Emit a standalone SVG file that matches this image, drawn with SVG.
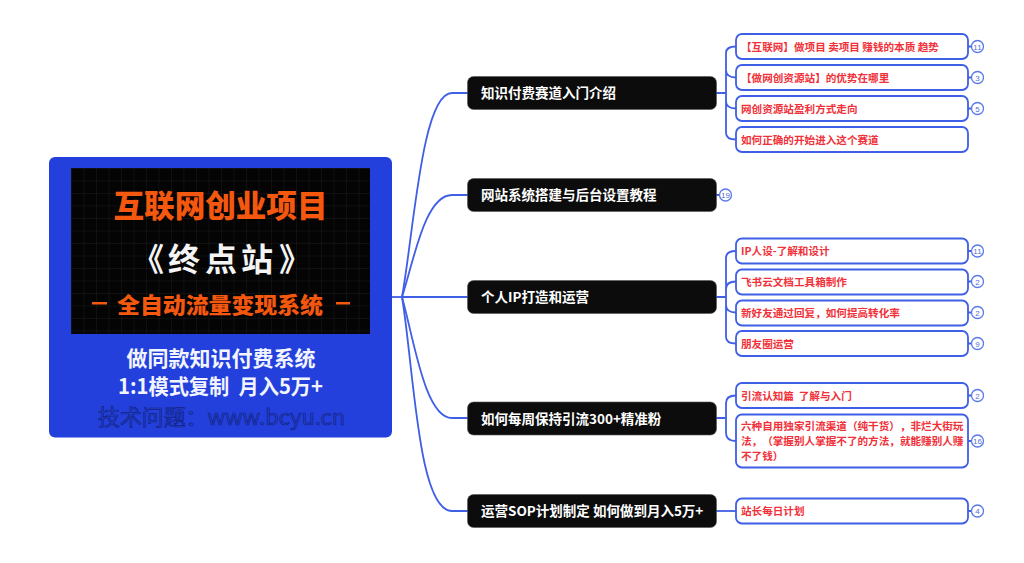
<svg xmlns="http://www.w3.org/2000/svg" width="1024" height="563" viewBox="0 0 1024 563">
<style>
text{font-family:"Noto Sans CJK SC","Liberation Sans",sans-serif;white-space:pre;text-spacing-trim:space-all}
.c{fill:none;stroke:#3f5fe6;stroke-width:1.8}
.m rect{fill:#0c0c0c;stroke:#555;stroke-width:.6}
.m text{fill:#fff;font-size:13.500px;font-weight:700}
.k rect{fill:#fff;stroke:#3f5fe6;stroke-width:1.8}
.k text{fill:#f0313a;font-size:10.600px;font-weight:700}
.b circle{fill:#fff;stroke:#5a78ea;stroke-width:1.3}
.b text{fill:#5570d8;font-size:8px;text-anchor:middle;font-family:"Liberation Sans",sans-serif}
</style>
<defs>
<pattern id="g" width="12.5" height="12.5" patternUnits="userSpaceOnUse" x="71" y="168"><path d="M12.5 0H0V12.5" fill="none" stroke="#2a2a2a" stroke-width=".6"/></pattern>
</defs>
<rect width="1024" height="563" fill="#fff"/>
<g id="connectors">
<path class="c" d="M392 297H402"/>
<path class="c" d="M402 297C414 230 422 93 452 93H468"/>
<path class="c" d="M402 297C414 260 425 195 452 195H468"/>
<path class="c" d="M402 297H468"/>
<path class="c" d="M402 297C414 340 425 418 452 418H468"/>
<path class="c" d="M402 297C414 370 418 511 452 511H468"/>
<path class="c" d="M716 93H726M726 53V133M726 53Q726 46.500 736 46.500M726 70Q726 77.500 736 77.500M726 101Q726 108.500 736 108.500M726 133Q726 139.500 736 139.500"/>
<path class="c" d="M716 297H726M726 258V337M726 258Q726 251 736 251M726 289Q726 281.500 736 281.500M726 305Q726 312.500 736 312.500M726 337Q726 343.500 736 343.500"/>
<path class="c" d="M716 418H726M726 403V433M726 403Q726 395.500 736 395.500M726 433Q726 441 736 441"/>
<path class="c" d="M716 511H736"/>
<path class="c" d="M716 195H720M968 46.500H972M968 77.500H972M968 108.500H972M968 251H972M968 281.500H972M968 312.500H972M968 343.500H972M968 395.500H972M968 441H972M968 511H972"/>
</g>
<g id="root">
<rect x="49" y="157" width="343" height="280.500" rx="6" fill="#2340dc"/>
<rect x="71" y="168" width="299" height="166" fill="#040404"/>
<rect x="71" y="168" width="299" height="166" fill="url(#g)"/>
<text x="220.500" y="217" text-anchor="middle" font-size="30.500" font-weight="900" fill="#f4580f" textLength="214" lengthAdjust="spacingAndGlyphs">互联网创业项目</text>
<text x="132 168 205 241 279" y="271" font-size="32" font-weight="700" fill="#f4f4f4">《终点站》</text>
<text x="220" y="313" text-anchor="middle" font-size="22" font-weight="900" fill="#f4580f" textLength="206" lengthAdjust="spacingAndGlyphs">全自动流量变现系统</text>
<rect x="92" y="302" width="15" height="2.500" fill="#f4580f"/>
<rect x="336" y="302" width="14" height="2.500" fill="#f4580f"/>
<text x="221" y="366" text-anchor="middle" font-size="21" font-weight="700" fill="#f2f5ff">做同款知识付费系统</text>
<text x="220.500" y="394" text-anchor="middle" font-size="21" font-weight="700" fill="#f2f5ff" textLength="205" lengthAdjust="spacingAndGlyphs">1:1模式复制  月入5万+</text>
<text x="221.500" y="425" text-anchor="middle" font-size="21.500" fill="#2340c8" stroke="#12228a" stroke-width=".7" textLength="247" lengthAdjust="spacingAndGlyphs">技术问题：www.bcyu.cn</text>
</g>
<g id="n1" class="m"><rect x="467.500" y="76.500" width="249" height="33" rx="6"/><text x="481" y="98">知识付费赛道入门介绍</text></g>
<g id="n2" class="m"><rect x="467.500" y="178.500" width="249" height="33" rx="6"/><text x="481" y="200">网站系统搭建与后台设置教程</text></g>
<g id="n3" class="m"><rect x="467.500" y="280.500" width="249" height="33" rx="6"/><text x="481" y="302">个人IP打造和运营</text></g>
<g id="n4" class="m"><rect x="467.500" y="402" width="249" height="33" rx="6"/><text x="481" y="424">如何每周保持引流300+精准粉</text></g>
<g id="n5" class="m"><rect x="467.500" y="494.500" width="249" height="33" rx="6"/><text x="481" y="516">运营SOP计划制定 如何做到月入5万+</text></g>
<g id="c1" class="k"><rect x="736" y="34" width="232" height="25" rx="6"/><text x="741" y="50.500">【互联网】做项目 卖项目 赚钱的本质 趋势</text></g>
<g id="c2" class="k"><rect x="736" y="65" width="232" height="25" rx="6"/><text x="741" y="81.500">【做网创资源站】的优势在哪里</text></g>
<g id="c3" class="k"><rect x="736" y="96" width="232" height="25" rx="6"/><text x="741" y="112.500">网创资源站盈利方式走向</text></g>
<g id="c4" class="k"><rect x="736" y="127" width="232" height="25" rx="6"/><text x="741" y="143.500">如何正确的开始进入这个赛道</text></g>
<g id="c5" class="k"><rect x="736" y="238.500" width="232" height="25" rx="6"/><text x="741" y="255">IP人设-了解和设计</text></g>
<g id="c6" class="k"><rect x="736" y="269.500" width="232" height="25" rx="6"/><text x="741" y="286">飞书云文档工具箱制作</text></g>
<g id="c7" class="k"><rect x="736" y="300.500" width="232" height="25" rx="6"/><text x="741" y="317">新好友通过回复，如何提高转化率</text></g>
<g id="c8" class="k"><rect x="736" y="331" width="232" height="25" rx="6"/><text x="741" y="348">朋友圈运营</text></g>
<g id="c9" class="k"><rect x="736" y="383" width="232" height="25" rx="6"/><text x="741" y="400">引流认知篇  了解与入门</text></g>
<g id="c10" class="k"><rect x="736" y="414.500" width="232" height="53" rx="6"/><text x="741" y="430">六种自用独家引流渠道（纯干货），非烂大街玩</text><text x="741" y="445">法，（掌握别人掌握不了的方法，就能赚别人赚</text><text x="741" y="460">不了钱）</text></g>
<g id="c11" class="k"><rect x="736" y="498.500" width="232" height="25" rx="6"/><text x="741" y="515">站长每日计划</text></g>
<g id="b0" class="b"><circle cx="725.500" cy="195" r="6"/><text x="725.500" y="198">19</text></g>
<g id="b1" class="b"><circle cx="977.500" cy="46.500" r="6"/><text x="977.500" y="49.500">11</text></g>
<g id="b2" class="b"><circle cx="977.500" cy="77.500" r="6"/><text x="977.500" y="80.500">3</text></g>
<g id="b3" class="b"><circle cx="977.500" cy="108.500" r="6"/><text x="977.500" y="111.500">5</text></g>
<g id="b5" class="b"><circle cx="977.500" cy="251" r="6"/><text x="977.500" y="254">11</text></g>
<g id="b6" class="b"><circle cx="977.500" cy="281.500" r="6"/><text x="977.500" y="284.500">2</text></g>
<g id="b7" class="b"><circle cx="977.500" cy="312.500" r="6"/><text x="977.500" y="315.500">2</text></g>
<g id="b8" class="b"><circle cx="977.500" cy="343.500" r="6"/><text x="977.500" y="346.500">9</text></g>
<g id="b9" class="b"><circle cx="977.500" cy="395.500" r="6"/><text x="977.500" y="398.500">2</text></g>
<g id="b10" class="b"><circle cx="977.500" cy="441" r="6"/><text x="977.500" y="444">16</text></g>
<g id="b11" class="b"><circle cx="977.500" cy="511" r="6"/><text x="977.500" y="514">4</text></g>
</svg>
